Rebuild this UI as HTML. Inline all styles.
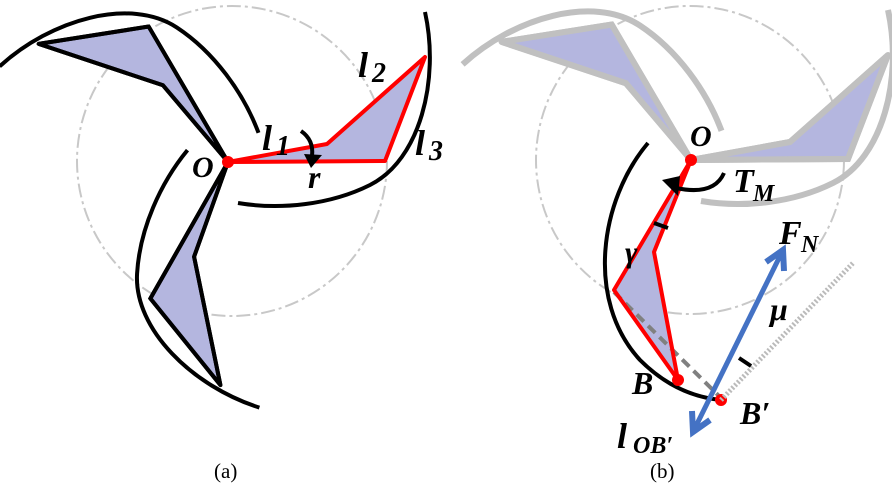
<!DOCTYPE html>
<html><head><style>
html,body{margin:0;padding:0;background:#fff;width:892px;height:500px;overflow:hidden}
text{font-family:"Liberation Serif",serif;font-weight:bold;font-style:italic;fill:#000}
.cap{font-style:normal;font-weight:normal}
</style></head><body>
<svg width="892" height="500" viewBox="0 0 892 500" xmlns="http://www.w3.org/2000/svg">
<defs>
<g id="blade">
  <polygon points="228,162 327,144 425,57 385,161" fill="#b4b6df"/>
  <path d="M425,12 C440,80 420,160 370,185 C330,205 280,210 238,203" fill="none"/>
  <polyline points="228,162 327,144 425,57 385,161 228,162" fill="none" stroke-linejoin="round"/>
</g>
</defs>

<!-- (a) -->
<circle cx="232" cy="161" r="155" fill="none" stroke="#c8c8c8" stroke-width="2" stroke-dasharray="14,4,3,4"/>
<g stroke="#000" stroke-width="4"><use href="#blade" transform="rotate(-120 228 162)"/></g>
<g stroke="#000" stroke-width="4"><use href="#blade" transform="rotate(120 228 162)"/></g>
<polygon points="228,162 327,144 425,57 385,161" fill="#b4b6df"/>
<path d="M425,12 C440,80 420,160 370,185 C330,205 280,210 238,203" fill="none" stroke="#000" stroke-width="4"/>
<polyline points="228,162 327,144 425,57 385,161 228,162" fill="none" stroke="#f00" stroke-width="4" stroke-linejoin="round"/>
<circle cx="228" cy="162" r="6" fill="#f00"/>
<path d="M301,131 Q314,140 312,156" fill="none" stroke="#000" stroke-width="4"/>
<polygon points="304,154 322,155 311,168" fill="#000"/>
<text x="192" y="177" font-size="30">O</text>
<text x="262" y="150" font-size="36">l</text><text x="276" y="155" font-size="28">1</text>
<text x="358" y="77" font-size="36">l</text><text x="372" y="82" font-size="28">2</text>
<text x="415" y="155" font-size="36">l</text><text x="429" y="160" font-size="28">3</text>
<text x="308" y="188" font-size="32">r</text>
<text class="cap" x="214" y="478" font-size="21">(a)</text>

<!-- (b) -->
<circle cx="690" cy="160" r="154" fill="none" stroke="#c8c8c8" stroke-width="2" stroke-dasharray="14,4,3,4"/>
<g stroke="#c0c0c0" stroke-width="6" transform="translate(463,-2)">
  <use href="#blade" transform="rotate(-120 228 162)"/>
  <use href="#blade"/>
</g>
<polygon points="691,160 654,252 678,380 614,290" fill="#b4b6df"/>
<path d="M648,143 C600,200 585,300 640,360 C670,390 700,398 721,400" fill="none" stroke="#000" stroke-width="4"/>
<line x1="614" y1="292" x2="719" y2="396" stroke="#808080" stroke-width="4" stroke-dasharray="10,6"/>
<polyline points="691,160 654,252 678,380 614,290 691,160" fill="none" stroke="#f00" stroke-width="4" stroke-linejoin="round"/>
<circle cx="691" cy="160" r="6" fill="#f00"/>
<circle cx="678" cy="380" r="6" fill="#f00"/>
<circle cx="721" cy="400" r="6" fill="#f00"/>
<line x1="721" y1="400" x2="853" y2="263" stroke="#bbb" stroke-width="5" stroke-dasharray="2,2"/>
<line x1="654" y1="223" x2="668" y2="228" stroke="#000" stroke-width="4"/>
<line x1="739" y1="358" x2="751" y2="366" stroke="#000" stroke-width="4"/>
<path d="M724,173 Q714,196 676,188" fill="none" stroke="#000" stroke-width="4"/>
<polygon points="662,180 680,176 678,196" fill="#000"/>
<line x1="693" y1="432" x2="783" y2="250" stroke="#4472c4" stroke-width="5"/>
<polyline points="766,262 783,250 784,271" fill="none" stroke="#4472c4" stroke-width="6"/>
<polyline points="692,411 693,432 710,420" fill="none" stroke="#4472c4" stroke-width="6"/>
<text x="690" y="146" font-size="30">O</text>
<text x="733" y="192" font-size="34">T</text><text x="753" y="201" font-size="24">M</text>
<text x="779" y="244" font-size="34">F</text><text x="801" y="252" font-size="24">N</text>
<text x="770" y="320" font-size="32">μ</text>
<text x="625" y="262" font-size="30">γ</text>
<text x="632" y="394" font-size="32">B</text>
<text x="740" y="424" font-size="32">B′</text>
<text x="617" y="448" font-size="36">l</text><text x="633" y="453" font-size="24">OB′</text>
<text class="cap" x="650" y="478" font-size="21">(b)</text>
</svg>
</body></html>
